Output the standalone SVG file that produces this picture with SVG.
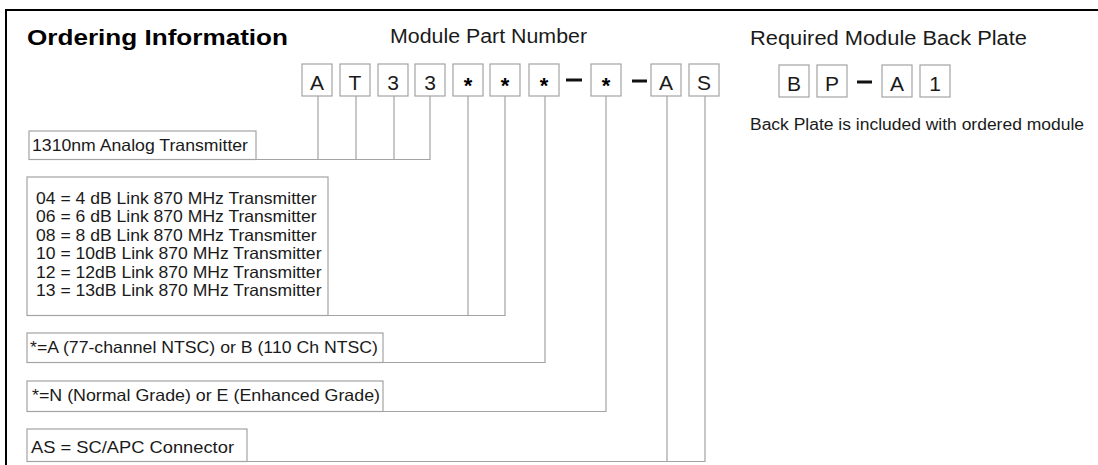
<svg xmlns="http://www.w3.org/2000/svg" width="1098" height="465" viewBox="0 0 1098 465">
  <style>
    text { font-family: "Liberation Sans", Arial, sans-serif; fill: #1a1a1a; }
    .title { font-size: 22px; font-weight: bold; fill: #000; }
    .head { font-size: 20px; }
    .note { font-size: 16px; }
    .lbl { font-size: 16.5px; }
    .ch { font-size: 21px; text-anchor: middle; }
    .star { font-size: 22px; font-weight: bold; text-anchor: middle; fill: #000; }
    .cell { fill: #fff; stroke: #a3a3a3; stroke-width: 1.2; }
    .dash { stroke: #111; stroke-width: 3; }
    .wire { fill: none; stroke: #a3a3a3; stroke-width: 1.2; }
  </style>

  <rect width="1098" height="465" fill="#fff"/>

  <!-- page frame -->
  <g id="frame" stroke="#000" stroke-width="2" fill="none">
    <path d="M6 465 V10 H1098"/>
  </g>

  <!-- headings -->
  <g id="headings">
    <text class="title" x="27" y="45" textLength="261" lengthAdjust="spacingAndGlyphs">Ordering Information</text>
    <text class="head" x="390" y="43" textLength="197" lengthAdjust="spacingAndGlyphs">Module Part Number</text>
    <text class="head" x="750" y="45" textLength="277" lengthAdjust="spacingAndGlyphs">Required Module Back Plate</text>
  </g>

  <!-- connectors -->
  <g id="connectors" class="wire">
    <path d="M256 159.5 H430 V96 M318 96 V159.5 M356 96 V159.5 M394 96 V159.5"/>
    <path d="M328 315.5 H505 V96 M468 96 V315.5"/>
    <path d="M383 362.5 H545 V96"/>
    <path d="M383 411.5 H606 V96"/>
    <path d="M247 461.5 H705 V96 M667 96 V461.5"/>
  </g>

  <!-- module part number cells -->
  <g id="part-number">
    <rect class="cell" x="302" y="64" width="30" height="32"/>
    <text class="ch" x="317" y="90">A</text>
    <rect class="cell" x="340" y="64" width="30" height="32"/>
    <text class="ch" x="355" y="90">T</text>
    <rect class="cell" x="378" y="64" width="30" height="32"/>
    <text class="ch" x="393" y="90">3</text>
    <rect class="cell" x="415" y="64" width="30" height="32"/>
    <text class="ch" x="430" y="90">3</text>
    <rect class="cell" x="453" y="64" width="30" height="32"/>
    <text class="star" x="468" y="93">*</text>
    <rect class="cell" x="490" y="64" width="30" height="32"/>
    <text class="star" x="505" y="93">*</text>
    <rect class="cell" x="529" y="64" width="30" height="32"/>
    <text class="star" x="544" y="93">*</text>
    <line class="dash" x1="566" y1="80" x2="582" y2="80"/>
    <rect class="cell" x="591" y="64" width="30" height="32"/>
    <text class="star" x="606" y="93">*</text>
    <line class="dash" x1="632" y1="81" x2="647" y2="81"/>
    <rect class="cell" x="651" y="64" width="30" height="32"/>
    <text class="ch" x="666" y="90">A</text>
    <rect class="cell" x="689" y="64" width="30" height="32"/>
    <text class="ch" x="704" y="90">S</text>
  </g>

  <!-- back plate cells -->
  <g id="back-plate">
    <rect class="cell" x="779" y="65" width="30" height="32"/>
    <text class="ch" x="794" y="91">B</text>
    <rect class="cell" x="817" y="65" width="30" height="32"/>
    <text class="ch" x="832" y="91">P</text>
    <line class="dash" x1="857" y1="82" x2="872" y2="82"/>
    <rect class="cell" x="882" y="65" width="30" height="32"/>
    <text class="ch" x="897" y="91">A</text>
    <rect class="cell" x="920" y="65" width="30" height="32"/>
    <text class="ch" x="935" y="91">1</text>
    <text class="note" x="750" y="130" textLength="334" lengthAdjust="spacingAndGlyphs">Back Plate is included with ordered module</text>
  </g>

  <!-- option legend boxes -->
  <g id="opt-type">
    <rect class="cell" x="29" y="131" width="227" height="28.5"/>
    <text class="lbl" x="32" y="150.5" textLength="216" lengthAdjust="spacingAndGlyphs">1310nm Analog Transmitter</text>
  </g>

  <g id="opt-link">
    <rect class="cell" x="27" y="177" width="301" height="138.5"/>
    <text class="lbl" x="36" y="203.5" textLength="280.5" lengthAdjust="spacingAndGlyphs">04 = 4 dB Link 870 MHz Transmitter</text>
    <text class="lbl" x="36" y="222" textLength="280.5" lengthAdjust="spacingAndGlyphs">06 = 6 dB Link 870 MHz Transmitter</text>
    <text class="lbl" x="36" y="240.5" textLength="280.5" lengthAdjust="spacingAndGlyphs">08 = 8 dB Link 870 MHz Transmitter</text>
    <text class="lbl" x="36" y="259" textLength="285.5" lengthAdjust="spacingAndGlyphs">10 = 10dB Link 870 MHz Transmitter</text>
    <text class="lbl" x="36" y="277.5" textLength="285.5" lengthAdjust="spacingAndGlyphs">12 = 12dB Link 870 MHz Transmitter</text>
    <text class="lbl" x="36" y="296" textLength="285.5" lengthAdjust="spacingAndGlyphs">13 = 13dB Link 870 MHz Transmitter</text>
  </g>

  <g id="opt-channels">
    <rect class="cell" x="27" y="333" width="356" height="29.5"/>
    <text class="lbl" x="30" y="352.5" textLength="348" lengthAdjust="spacingAndGlyphs">*=A (77-channel NTSC) or B (110 Ch NTSC)</text>
  </g>

  <g id="opt-grade">
    <rect class="cell" x="27" y="381" width="356" height="30.5"/>
    <text class="lbl" x="32" y="401" textLength="348" lengthAdjust="spacingAndGlyphs">*=N (Normal Grade) or E (Enhanced Grade)</text>
  </g>

  <g id="opt-connector">
    <rect class="cell" x="27" y="429" width="220" height="32.5"/>
    <text class="lbl" x="31" y="453" textLength="203" lengthAdjust="spacingAndGlyphs">AS = SC/APC Connector</text>
  </g>
</svg>
